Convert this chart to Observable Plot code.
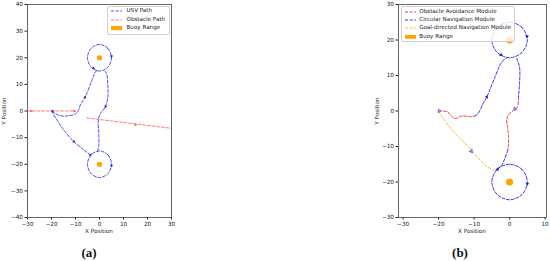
<!DOCTYPE html>
<html><head><meta charset="utf-8">
<script src="https://cdn.jsdelivr.net/npm/d3@7"></script>
<script src="https://cdn.jsdelivr.net/npm/@observablehq/plot@0.6"></script>
<style>
body{margin:0;background:#fff;}
#fig{position:relative;width:550px;height:261px;overflow:hidden;background:#fff;font-family:"DejaVu Sans",sans-serif;}
.axl{position:absolute;font-size:5.7px;line-height:1;color:#222;white-space:nowrap;transform:translate(-50%,-50%);}
.yl{transform:translate(-50%,-50%) rotate(-90deg);}
.cap{position:absolute;font-family:"Liberation Serif",serif;font-weight:bold;font-size:13px;line-height:1;color:#111;transform:translate(-50%,-50%);}
.leg{position:absolute;background:rgba(255,255,255,0.8);border:0.6px solid #cfcfcf;border-radius:2px;box-sizing:border-box;}
.row{position:absolute;font-size:5.6px;line-height:1;color:#222;white-space:nowrap;transform:translateY(-50%);}
.hnd{position:absolute;transform:translateY(-50%);}
</style></head>
<body><div id="fig"></div>
<script>
// ---------- axis settings ----------
const xDomainA = [-30, 30];
const yDomainA = [-40, 40];
const xTicksA = [-30, -20, -10, 0, 10, 20, 30];
const yTicksA = [-40, -30, -20, -10, 0, 10, 20, 30, 40];
const xDomainB = [-31.3, 10.4];
const yDomainB = [-30, 30];
const xTicksB = [-30, -20, -10, 0, 10];
const yTicksB = [-30, -20, -10, 0, 10, 20, 30];

// ---------- buoys and their circling rings ----------
const buoys = [{x: 0, y: 20}, {x: 0, y: -20}];
const upperRing = [[5,20],[3.5,23.5],[0,25],[-3.5,23.5],[-5,20],[-3.5,16.5],[0,15],[3.5,16.5]];
const lowerRing = [[5,-20],[3.5,-16.5],[0,-15],[-3.5,-16.5],[-5,-20],[-3.5,-23.5],[0,-25],[3.5,-23.5]];

// ---------- panel (a) ----------
const usvA1 = [[-20,0],[-19,-1.5],[-15,-7],[-10.7,-11.5],[-6.5,-14.6],[-3.8,-16.5]];
const usvA2 = [[-0.8,-15.1],[-0.3,-13],[-0.3,-8.4],[-0.5,-3.4],[0.4,-0.9],[2.5,1.6],[3.5,5.4],[3.5,9.1],[2.9,14.1],[1.8,15.3]];
const usvA3 = [[-1,15.1],[-1.7,14.7],[-3.1,11.6],[-5.9,5.4],[-8,2.2],[-8.7,0.4],[-10,-1.1],[-16.3,-1.8],[-20,0]];
const obstacleA1 = [[-30,0],[-10,0]];
const obstacleA2 = [[-5.4,-2.6],[30,-6.5]];
const usvArrowsA = [
  {x:-19.5,y:0,a:90},{x:-6,y:5.2,a:25},{x:5,y:20.5,a:180},{x:-2.6,y:16.1,a:120},
  {x:2.5,y:1.6,a:210},{x:-10.7,y:-11.5,a:135},{x:-3.8,y:-16.5,a:150},{x:5,y:-20.5,a:180}
];
const obstacleArrowsA = [{x:-28.5,y:0,a:90},{x:-10.5,y:0,a:90},{x:15,y:-5.2,a:95}];

// ---------- panel (b) ----------
const avoidB1 = [[-20,0],[-17.6,-0.2],[-16.2,-1.6],[-15.3,-2.1],[-13.4,-1.4],[-11.1,-1.6],[-9.7,-1.4]];
const avoidB2 = [[2.5,4],[2.2,1.2],[0.6,-0.2],[-0.3,-1.1],[-0.8,-2.5],[-0.6,-4.4],[-0.3,-7.2],[-0.3,-9.1],[-0.5,-11]];
const circB1 = [[-9.7,-1.4],[-8.8,-0.6],[-7.4,2.2],[-6.4,4],[-4.1,9.6],[-2.2,13.8],[-0.8,15]];
const circB2 = [[2,14.8],[2.8,12.4],[2.8,7.8],[2.5,4]];
const circB3 = [[-0.5,-11],[-1.3,-13.3],[-2.2,-15.2],[-3.4,-16.3]];
const goalB = [[-20,0],[-19,-1.6],[-15.8,-5.8],[-12.5,-9.1],[-10.6,-11.2],[-8.3,-13.8],[-6.4,-15.6],[-4.6,-16.6],[-3.6,-16.8]];
const blueArrowsB = [{x:-6.4,y:4,a:30},{x:-2.4,y:15.8,a:120},{x:4.9,y:21,a:180},{x:-3.4,y:-16.4,a:140},{x:5,y:-20.5,a:180}];
const purpleArrowsB = [{x:-19.8,y:0,a:90},{x:1.5,y:0.6,a:225},{x:-10.8,y:-11.3,a:140}];

// ---------- legends ----------
const legendA = [
  {label:"USV Path", kind:"line", color:"#0000ff", op:0.7},
  {label:"Obstacle Path", kind:"line", color:"#ff0000", op:0.5},
  {label:"Buoy Range", kind:"patch", color:"#ffa500", op:1}
];
const legendB = [
  {label:"Obstacle Avoidance Module", kind:"line", color:"#ee1111", op:0.8},
  {label:"Circular Navigation Module", kind:"line", color:"#0000ff", op:0.8},
  {label:"Goal-directed Navigation Module", kind:"line", color:"#ffa500", op:0.75},
  {label:"Buoy Range", kind:"patch", color:"#ffa500", op:1}
];

const DASH = "3,1.7";
function path(data, stroke, opacity, curve = "catmull-rom") {
  return Plot.line(data, {x: d => d[0], y: d => d[1], stroke, strokeOpacity: opacity,
    strokeWidth: 1, strokeDasharray: DASH, curve});
}
function arrows(data, fill, r) {
  return Plot.dot(data, {x: "x", y: "y", rotate: "a", symbol: "triangle", r, fill, stroke: "none"});
}
const baseStyle = {fontFamily: "DejaVu Sans, sans-serif", fontSize: "5.7px", color: "#222",
  background: "transparent", overflow: "visible", position: "absolute", top: "0px"};

const plotA = Plot.plot({
  width: 176, height: 240, marginLeft: 27, marginRight: 5, marginTop: 4, marginBottom: 23,
  style: {...baseStyle, left: "0px"},
  x: {domain: xDomainA, ticks: xTicksA, tickSize: 2.5, tickPadding: 2, label: null},
  y: {domain: yDomainA, ticks: yTicksA, tickSize: 2.5, tickPadding: 2, label: null},
  marks: [
    Plot.dot(buoys, {x: "x", y: "y", r: 2.6, fill: "#ffa500"}),
    path(obstacleA1, "#ff0000", 0.5, "linear"),
    path(obstacleA2, "#ff0000", 0.5, "linear"),
    path(usvA1, "#0000ff", 0.7),
    path(usvA2, "#0000ff", 0.7),
    path(usvA3, "#0000ff", 0.7),
    path(upperRing, "#0000ff", 0.7, "catmull-rom-closed"),
    path(lowerRing, "#0000ff", 0.7, "catmull-rom-closed"),
    arrows(obstacleArrowsA, "#f06060", 1.2),
    arrows(usvArrowsA, "#3030d0", 1.2),
    Plot.frame({stroke: "#444", strokeWidth: 0.8})
  ]
});

const plotB = Plot.plot({
  width: 190, height: 240, marginLeft: 38, marginRight: 4, marginTop: 4, marginBottom: 23,
  style: {...baseStyle, left: "360px"},
  x: {domain: xDomainB, ticks: xTicksB, tickSize: 2.5, tickPadding: 2, label: null},
  y: {domain: yDomainB, ticks: yTicksB, tickSize: 2.5, tickPadding: 2, label: null},
  marks: [
    Plot.dot(buoys, {x: "x", y: "y", r: 3.6, fill: "#ffa500"}),
    path(goalB, "#ffa500", 0.75),
    path(avoidB1, "#ee1111", 0.8),
    path(avoidB2, "#ee1111", 0.8),
    path(circB1, "#0000ff", 0.8),
    path(circB2, "#0000ff", 0.8),
    path(circB3, "#0000ff", 0.8),
    path(upperRing, "#0000ff", 0.8, "catmull-rom-closed"),
    path(lowerRing, "#0000ff", 0.8, "catmull-rom-closed"),
    arrows(blueArrowsB, "#2a2ad0", 1.4),
    arrows(purpleArrowsB, "#8a80d4", 1.9),
    Plot.frame({stroke: "#444", strokeWidth: 0.8})
  ]
});

const fig = document.getElementById("fig");
fig.appendChild(plotA);
fig.appendChild(plotB);

function addText(cls, text, x, y) {
  const d = document.createElement("div");
  d.className = cls; d.textContent = text;
  d.style.left = x + "px"; d.style.top = y + "px";
  fig.appendChild(d);
}
addText("axl yl", "Y Position", 5, 111);
addText("axl", "X Position", 99, 231.5);
addText("axl yl", "Y Position", 378, 111);
addText("axl", "X Position", 472, 231.5);
addText("cap", "(a)", 89, 252);
addText("cap", "(b)", 460, 252);

function addLegend(items, box, hx, tx, y0, dy) {
  const b = document.createElement("div");
  b.className = "leg";
  Object.assign(b.style, {left: box[0] + "px", top: box[1] + "px", width: box[2] + "px", height: box[3] + "px"});
  fig.appendChild(b);
  items.forEach((it, i) => {
    const y = y0 + i * dy;
    const h = document.createElement("div");
    h.className = "hnd";
    h.style.left = hx + "px"; h.style.top = y + "px";
    const w = 11.5;
    if (it.kind === "line") {
      h.innerHTML = `<svg width="${w}" height="3" style="display:block"><line x1="0" y1="1.5" x2="${w}" y2="1.5" stroke="${it.color}" stroke-opacity="${it.op}" stroke-width="1" stroke-dasharray="${DASH}"/></svg>`;
    } else {
      h.innerHTML = `<svg width="${w}" height="4.5" style="display:block"><rect x="0" y="0" width="${w}" height="4.5" fill="${it.color}"/></svg>`;
    }
    fig.appendChild(h);
    const t = document.createElement("div");
    t.className = "row"; t.textContent = it.label;
    t.style.left = tx + "px"; t.style.top = y + "px";
    fig.appendChild(t);
  });
}
addLegend(legendA, [106.5, 5.5, 63, 29], 110.5, 126.5, 11, 8.6);
addLegend(legendB, [401, 5.5, 114, 36.5], 404.5, 419.3, 11.6, 8.4);
</script>
</body></html>
